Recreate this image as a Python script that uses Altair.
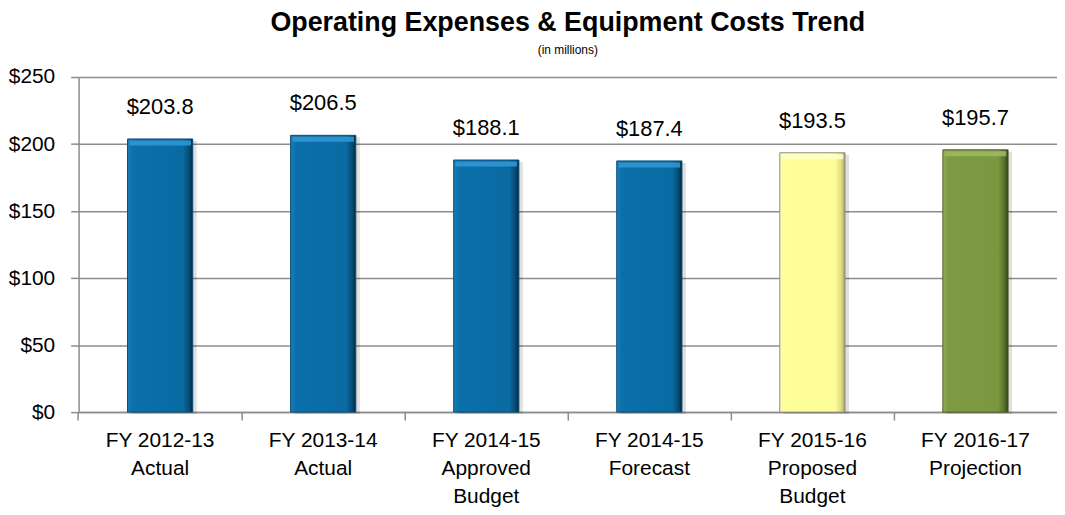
import altair as alt
import pandas as pd

categories = [
    "FY 2012-13|Actual",
    "FY 2013-14|Actual",
    "FY 2014-15|Approved|Budget",
    "FY 2014-15|Forecast",
    "FY 2015-16|Proposed|Budget",
    "FY 2016-17|Projection",
]
values = [203.8, 206.5, 188.1, 187.4, 193.5, 195.7]
groups = ["history", "history", "history", "history", "proposed", "projection"]
y_ticks = [0, 50, 100, 150, 200, 250]

df = pd.DataFrame({"cat": categories, "value": values, "group": groups})

FONT = "Liberation Sans, Arial, sans-serif"
GRID = "#8c8c8c"

def grad(stops):
    return alt.Gradient(
        gradient="linear",
        stops=[alt.GradientStop(color=c, offset=o) for o, c in stops],
        x1=0, x2=1, y1=0, y2=0,
    )

styles = {
    "history": (grad([(0, "#1a7db8"), (0.08, "#0b6fa9"), (0.85, "#0a6ba3"), (0.95, "#064a72"), (1, "#022538")]), "#0a4f78", "#3196d2"),
    "proposed": (grad([(0, "#fffbb0"), (0.08, "#ffff99"), (0.85, "#fdfd98"), (0.95, "#d8d87e"), (1, "#9c9c5c")]), "#8c8c8c", "#ffffc8"),
    "projection": (grad([(0, "#92ad55"), (0.08, "#7e9a42"), (0.85, "#7b973f"), (0.95, "#566c2b"), (1, "#2c3816")]), "#4f6427", "#9cb863"),
}

x = alt.X(
    "cat:N",
    sort=categories,
    title=None,
    scale=alt.Scale(paddingInner=0.6, paddingOuter=0.3),
    axis=alt.Axis(
        labelExpr="split(datum.label, '|')",
        labelAngle=0,
        labelFontSize=21,
        labelLineHeight=28,
        labelPadding=10,
        labelFont=FONT,
        labelColor="black",
        bandPosition=-0.75,
        tickSize=8,
        tickColor=GRID,
        tickWidth=1.5,
        domainColor=GRID,
        domainWidth=1.5,
        grid=False,
    ),
)
y = alt.Y(
    "value:Q",
    title=None,
    scale=alt.Scale(domain=[0, 250], nice=False),
    axis=alt.Axis(
        values=y_ticks,
        format="$,.0f",
        labelFontSize=21,
        labelFont=FONT,
        labelColor="black",
        labelPadding=16,
        tickSize=8,
        tickColor=GRID,
        tickWidth=1.5,
        domainColor=GRID,
        domainWidth=1.5,
        grid=True,
        gridColor=GRID,
        gridWidth=1.5,
    ),
)

base = alt.Chart(df)

layers = []
for g, (fill, stroke, hi) in styles.items():
    layers.append(
        base.transform_filter(alt.datum.group == g)
        .mark_bar(color="#000000", opacity=0.12, xOffset=4, yOffset=2)
        .encode(x=x, y=y)
    )
for g, (fill, stroke, hi) in styles.items():
    sub = base.transform_filter(alt.datum.group == g)
    layers.append(sub.mark_bar(color=fill, stroke=stroke, strokeWidth=1).encode(x=x, y=y))
    layers.append(
        sub.mark_tick(color=hi, thickness=5, size=62, yOffset=4, opacity=0.9).encode(x=x, y=y)
    )

text = base.mark_text(
    baseline="bottom", dy=-20, fontSize=22, font=FONT, color="black"
).encode(x=x, y=y, text=alt.Text("value:Q", format="$.1f"))

chart = (
    alt.layer(*layers, text)
    .properties(
        width=984,
        height=337,
        padding={"left": 0, "top": 0, "right": 0, "bottom": 0},
        title=alt.TitleParams(
            "Operating Expenses & Equipment Costs Trend",
            subtitle="(in millions)",
            fontSize=27,
            fontWeight="bold",
            font=FONT,
            color="black",
            subtitleFont=FONT,
            subtitleFontSize=12,
            subtitleColor="black",
            subtitlePadding=8,
            anchor="middle",
            offset=9,
        ),
    )
    .configure_view(stroke=None)
)

chart.save("out.html", embed_options={"renderer": "svg", "actions": False})
